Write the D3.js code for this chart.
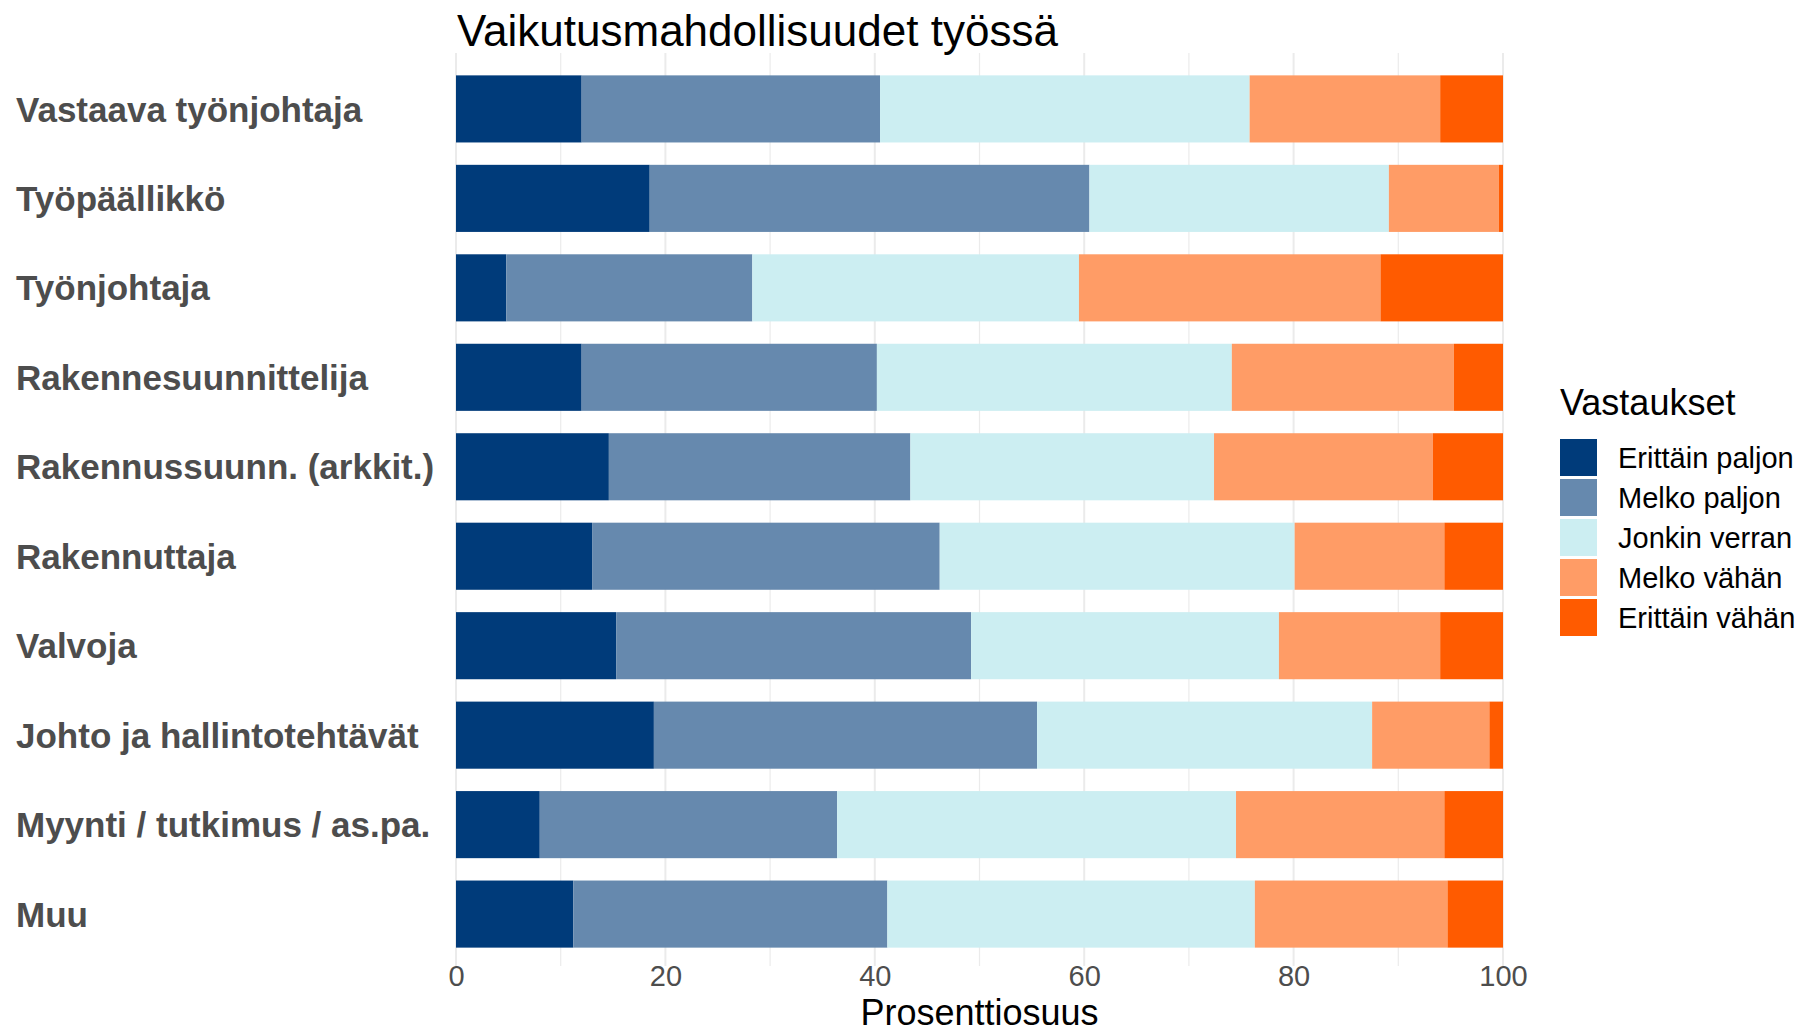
<!DOCTYPE html>
<html>
<head>
<meta charset="utf-8">
<script src="https://cdn.jsdelivr.net/npm/d3@7"></script>
<style>
  body { margin: 0; background: #fff; }
  text { font-family: "Liberation Sans", Arial, sans-serif; }
</style>
</head>
<body>
<svg id="chart"></svg>
<script>
// Data (percent of answers per group)
const groups = ["Vastaava työnjohtaja", "Työpäällikkö", "Työnjohtaja", "Rakennesuunnittelija",
  "Rakennussuunn. (arkkit.)", "Rakennuttaja", "Valvoja", "Johto ja hallintotehtävät",
  "Myynti / tutkimus / as.pa.", "Muu"];
const answers = ["Erittäin paljon", "Melko paljon", "Jonkin verran", "Melko vähän", "Erittäin vähän"];
const erittainPaljon = [12.0, 18.5, 4.8, 12.0, 14.6, 13.0, 15.3, 18.9, 8.0, 11.2];
const melkoPaljon    = [28.5, 42.0, 23.5, 28.2, 28.8, 33.2, 33.9, 36.6, 28.4, 30.0];
const jonkinVerran   = [35.3, 28.6, 31.2, 33.9, 29.0, 33.9, 29.4, 32.0, 38.1, 35.1];
const melkoVahan     = [18.2, 10.5, 28.8, 21.2, 20.9, 14.3, 15.4, 11.2, 19.9, 18.4];
const erittainVahan  = [ 6.0,  0.4, 11.7,  4.7,  6.7,  5.6,  6.0,  1.3,  5.6,  5.3];
const xTicks = [0, 20, 40, 60, 80, 100];
const colors = ["#003B7A", "#6689AE", "#CCEEF2", "#FF9C66", "#FF5B00"];

(function () {

const W = 1803, H = 1033;
const margin = {top: 53, right: 300, bottom: 63, left: 456},
    width = 1503 - margin.left,
    height = 970 - margin.top;

const svg = d3.select("#chart")
    .attr("width", W)
    .attr("height", H);

const g = svg.append("g")
    .attr("transform", `translate(${margin.left},${margin.top})`);

// build rows for d3.stack
const series = [erittainPaljon, melkoPaljon, jonkinVerran, melkoVahan, erittainVahan];
const rows = groups.map((name, i) => {
    const r = {group: name};
    answers.forEach((a, j) => r[a] = series[j][i]);
    return r;
});
const stacked = d3.stack().keys(answers)(rows);

const x = d3.scaleLinear().domain([0, 100]).range([0, width]);
const y = d3.scaleBand().domain(groups).range([0, height])
    .paddingInner(0.25).paddingOuter(0.25);
const color = d3.scaleOrdinal().domain(answers).range(colors);

// grid lines (major + minor)
g.selectAll(".grid")
    .data(d3.range(0, 101, 10))
    .enter().append("line")
    .attr("x1", d => x(d)).attr("x2", d => x(d))
    .attr("y1", 0).attr("y2", height - 4)
    .attr("stroke", "#EBEBEB")
    .attr("stroke-width", d => d % 20 === 0 ? 2 : 1.2);

// bars
g.selectAll(".layer")
    .data(stacked)
    .enter().append("g")
    .attr("fill", d => color(d.key))
    .selectAll("rect")
    .data(d => d)
    .enter().append("rect")
    .attr("x", d => x(d[0]))
    .attr("y", d => y(d.data.group))
    .attr("width", d => x(d[1]) - x(d[0]))
    .attr("height", y.bandwidth());

// x axis
const xAxis = g.append("g")
    .attr("transform", `translate(0,${height})`)
    .call(d3.axisBottom(x).tickValues(xTicks).tickSize(0).tickPadding(-5));
xAxis.select(".domain").remove();
xAxis.selectAll("text")
    .style("font-size", "29px")
    .style("font-family", "Liberation Sans, Arial, sans-serif")
    .attr("fill", "#4D4D4D");

// y labels, left aligned
svg.selectAll(".ylab")
    .data(groups)
    .enter().append("text")
    .attr("x", 16)
    .attr("y", d => margin.top + y(d) + y.bandwidth() / 2)
    .attr("dy", "0.36em")
    .style("font-size", "35px")
    .style("font-weight", "bold")
    .attr("fill", "#4D4D4D")
    .text(d => d);

// title + axis title
svg.append("text")
    .attr("x", 457).attr("y", 46)
    .style("font-size", "44px")
    .attr("fill", "#000")
    .text("Vaikutusmahdollisuudet työssä");

svg.append("text")
    .attr("x", margin.left + width / 2).attr("y", 1025)
    .attr("text-anchor", "middle")
    .style("font-size", "36px")
    .attr("fill", "#000")
    .text("Prosenttiosuus");

// legend
const legend = svg.append("g").attr("transform", "translate(1560,0)");
legend.append("text")
    .attr("x", 0).attr("y", 415)
    .style("font-size", "36px")
    .attr("fill", "#000")
    .text("Vastaukset");

const items = legend.selectAll(".item")
    .data(answers)
    .enter().append("g")
    .attr("transform", (d, i) => `translate(0,${439 + i * 40})`);
items.append("rect")
    .attr("width", 37).attr("height", 37)
    .attr("fill", d => color(d));
items.append("text")
    .attr("x", 58).attr("y", 18.5)
    .attr("dy", "0.36em")
    .style("font-size", "29px")
    .attr("fill", "#000")
    .text(d => d);

})();
</script>
</body>
</html>
